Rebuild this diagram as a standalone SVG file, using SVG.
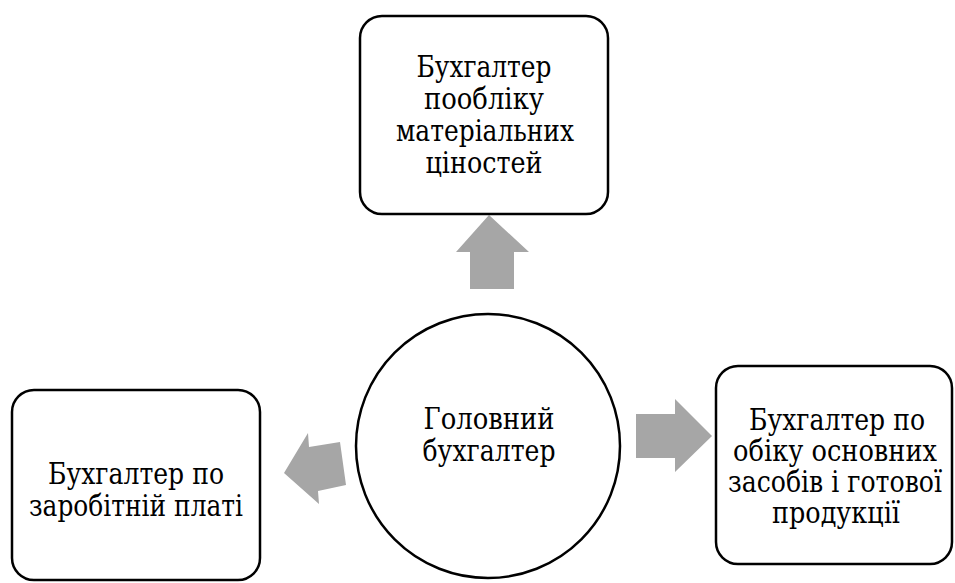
<svg xmlns="http://www.w3.org/2000/svg" width="955" height="583" viewBox="0 0 955 583">
<style>
.box{fill:#fff;stroke:#000;stroke-width:2.5}
.arr{fill:#a6a6a6;stroke:none}
.t{font-family:'DejaVu Serif','Liberation Serif',serif;font-size:30px;fill:#000;text-anchor:middle}
</style>
<rect width="955" height="583" fill="#fff"/>
<g id="connectors">
<polygon class="arr" points="489,215 529,252 514,252 514,289 470,289 470,252 456,252"/>
<polygon class="arr" points="284,473 308,433 309,447 340,442 346,485 318,491 319,504"/>
<polygon class="arr" points="636,414 675,414 675,399 712,436 675,472 675,458 636,458"/>
</g>
<g id="node-top">
<rect class="box" x="360" y="16" width="248" height="198" rx="22"/>
<text class="t" x="484" y="77" textLength="135" lengthAdjust="spacingAndGlyphs">Бухгалтер</text>
<text class="t" x="484" y="109" textLength="120" lengthAdjust="spacingAndGlyphs">пообліку</text>
<text class="t" x="485" y="141" textLength="178" lengthAdjust="spacingAndGlyphs">матеріальних</text>
<text class="t" x="484" y="173" textLength="117" lengthAdjust="spacingAndGlyphs">ціностей</text>
</g>
<g id="node-center">
<circle class="box" cx="488" cy="446" r="132"/>
<text class="t" x="489" y="429" textLength="131" lengthAdjust="spacingAndGlyphs">Головний</text>
<text class="t" x="489" y="461" textLength="133" lengthAdjust="spacingAndGlyphs">бухгалтер</text>
</g>
<g id="node-left">
<rect class="box" x="12" y="390" width="248" height="190" rx="22"/>
<text class="t" x="136" y="484" textLength="176" lengthAdjust="spacingAndGlyphs">Бухгалтер по</text>
<text class="t" x="136" y="516" textLength="214" lengthAdjust="spacingAndGlyphs">заробітній платі</text>
</g>
<g id="node-right">
<rect class="box" x="716" y="366" width="236" height="198" rx="22"/>
<text class="t" x="837" y="430" textLength="176" lengthAdjust="spacingAndGlyphs">Бухгалтер по</text>
<text class="t" x="835" y="461" textLength="204" lengthAdjust="spacingAndGlyphs">обіку основних</text>
<text class="t" x="835" y="492" textLength="214" lengthAdjust="spacingAndGlyphs">засобів і готової</text>
<text class="t" x="836" y="523" textLength="128" lengthAdjust="spacingAndGlyphs">продукції</text>
</g>
</svg>
